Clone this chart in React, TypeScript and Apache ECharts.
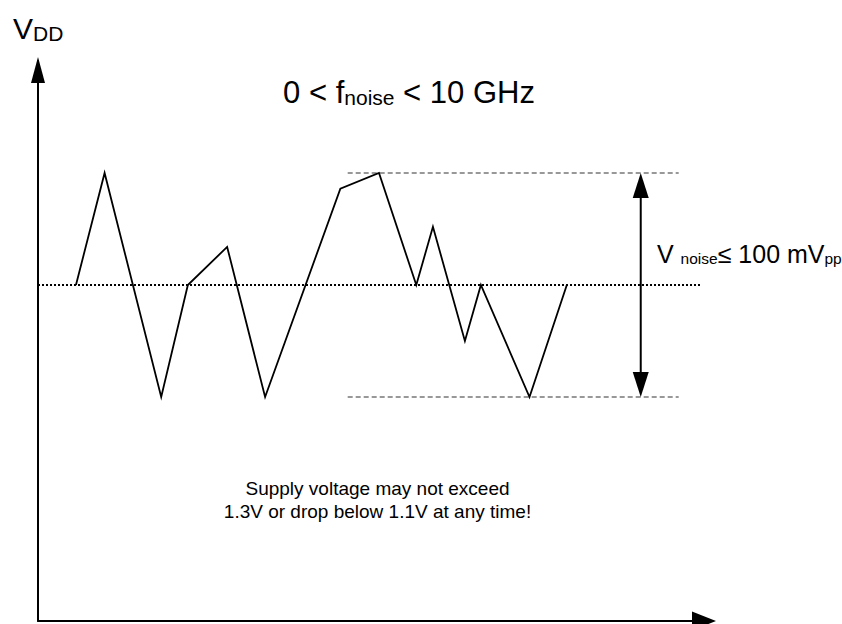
import React, { useEffect, useRef } from "react";
import * as echarts from "echarts";

// time (arbitrary units) and supply voltage (V) of the noisy V_DD trace
const timePoints = [5.7, 10, 18.5, 22.5, 28.4, 34.1, 45.4, 51.2, 56.8, 59.3, 64.1, 66.5, 73.8, 79.4];
const vddValues = [1.2, 1.25, 1.15, 1.2, 1.217, 1.15, 1.243, 1.25, 1.2, 1.226, 1.175, 1.2, 1.15, 1.2];

const nominalV = 1.2;
const nominalSpan = [0, 99.6];
const limitHigh = 1.25;
const limitLow = 1.15;
const limitSpan = [46.5, 96.2];
const noiseArrowX = 90.5;

const FONT = "'Liberation Sans', Arial, Helvetica, sans-serif";

export default function App() {
  const ref = useRef<HTMLDivElement>(null);
  useEffect(() => {
    if (!ref.current) return;
    const chart = echarts.init(ref.current, undefined, { renderer: "svg" });
    const option: any = {
      animation: false,
      backgroundColor: "#ffffff",
      grid: { left: 38, top: 61, width: 666, height: 560 },
      xAxis: {
        type: "value",
        min: 0,
        max: 100,
        axisLine: {
          show: true,
          lineStyle: { color: "#000", width: 2 },
          symbol: ["none", "triangle"],
          symbolSize: [19, 24],
          symbolOffset: [0, 0],
        },
        axisTick: { show: false },
        axisLabel: { show: false },
        splitLine: { show: false },
      },
      yAxis: {
        type: "value",
        min: 1.05,
        max: 1.3,
        axisLine: {
          show: true,
          lineStyle: { color: "#000", width: 2 },
          symbol: ["none", "triangle"],
          symbolSize: [14, 26],
          symbolOffset: [0, -9],
        },
        axisTick: { show: false },
        axisLabel: { show: false },
        splitLine: { show: false },
      },
      series: [
        {
          name: "nominal",
          type: "line",
          data: [
            [nominalSpan[0], nominalV],
            [nominalSpan[1], nominalV],
          ],
          symbol: "none",
          silent: true,
          lineStyle: { color: "#000", width: 2, type: [2, 2] },
          z: 2,
        },
        {
          name: "upper",
          type: "line",
          data: [
            [limitSpan[0], limitHigh],
            [limitSpan[1], limitHigh],
          ],
          symbol: "none",
          silent: true,
          lineStyle: { color: "#777", width: 1.3, type: [5, 3] },
          z: 2,
        },
        {
          name: "lower",
          type: "line",
          data: [
            [limitSpan[0], limitLow],
            [limitSpan[1], limitLow],
          ],
          symbol: "none",
          silent: true,
          lineStyle: { color: "#777", width: 1.3, type: [5, 3] },
          z: 2,
        },
        {
          name: "VDD",
          type: "line",
          data: timePoints.map((t, i) => [t, vddValues[i]]),
          symbol: "none",
          silent: true,
          lineStyle: { color: "#000", width: 1.8, join: "miter", miterLimit: 20 },
          z: 3,
        },
        {
          name: "noiseSpan",
          type: "custom",
          silent: true,
          clip: false,
          data: [[noiseArrowX, limitHigh, limitLow]],
          encode: { x: 0, y: [1, 2] },
          renderItem: (params: any, api: any) => {
            const x = api.value(0);
            const p1 = api.coord([x, api.value(1)]);
            const p2 = api.coord([x, api.value(2)]);
            const L = 25;
            const W = 8;
            return {
              type: "group",
              children: [
                {
                  type: "line",
                  shape: { x1: p1[0], y1: p1[1] + L - 2, x2: p2[0], y2: p2[1] - L + 2 },
                  style: { stroke: "#000", lineWidth: 2 },
                },
                {
                  type: "polygon",
                  shape: { points: [[p1[0], p1[1]], [p1[0] - W, p1[1] + L], [p1[0] + W, p1[1] + L]] },
                  style: { fill: "#000" },
                },
                {
                  type: "polygon",
                  shape: { points: [[p2[0], p2[1]], [p2[0] - W, p2[1] - L], [p2[0] + W, p2[1] - L]] },
                  style: { fill: "#000" },
                },
              ],
            };
          },
          z: 4,
        },
      ],
      graphic: [
        {
          type: "text",
          x: 13,
          y: 13.8,
          style: {
            text: "{m|V}{s|DD}",
            textAlign: "left",
            align: "left",
            textVerticalAlign: "top",
            verticalAlign: "top",
            rich: {
              m: { fontSize: 30, lineHeight: 30, fontFamily: FONT, fill: "#000", color: "#000" },
              s: { fontSize: 21, lineHeight: 16, fontFamily: FONT, verticalAlign: "bottom", fill: "#000", color: "#000" },
            },
          },
        },
        {
          type: "text",
          x: 409,
          y: 77,
          style: {
            text: "{m|0 < f}{s|noise}{m| < 10 GHz}",
            textAlign: "center",
            align: "center",
            textVerticalAlign: "top",
            verticalAlign: "top",
            rich: {
              m: { fontSize: 31, lineHeight: 31, fontFamily: FONT, fill: "#000", color: "#000" },
              s: { fontSize: 21, lineHeight: 18, fontFamily: FONT, verticalAlign: "bottom", fill: "#000", color: "#000" },
            },
          },
        },
        {
          type: "text",
          x: 657,
          y: 241.75,
          style: {
            text: "{m|V }{s|noise}{m|≤ 100 mV}{s|pp}",
            textAlign: "left",
            align: "left",
            textVerticalAlign: "top",
            verticalAlign: "top",
            rich: {
              m: { fontSize: 25, lineHeight: 25, fontFamily: FONT, fill: "#000", color: "#000" },
              s: { fontSize: 15.5, lineHeight: 14, fontFamily: FONT, verticalAlign: "bottom", fill: "#000", color: "#000" },
            },
          },
        },
        {
          type: "text",
          x: 377.5,
          y: 477,
          style: {
            text: "Supply voltage may not exceed\n1.3V or drop below 1.1V at any time!",
            font: `19px ${FONT}`,
            fontSize: 19,
            fontFamily: FONT,
            lineHeight: 23,
            textAlign: "center",
            align: "center",
            textVerticalAlign: "top",
            verticalAlign: "top",
            fill: "#000",
          },
        },
      ],
    };
    chart.setOption(option);
    return () => chart.dispose();
  }, []);
  return (
    <div
      ref={ref}
      style={{ position: "fixed", left: 0, top: 0, width: 842, height: 624, background: "#fff" }}
    />
  );
}
